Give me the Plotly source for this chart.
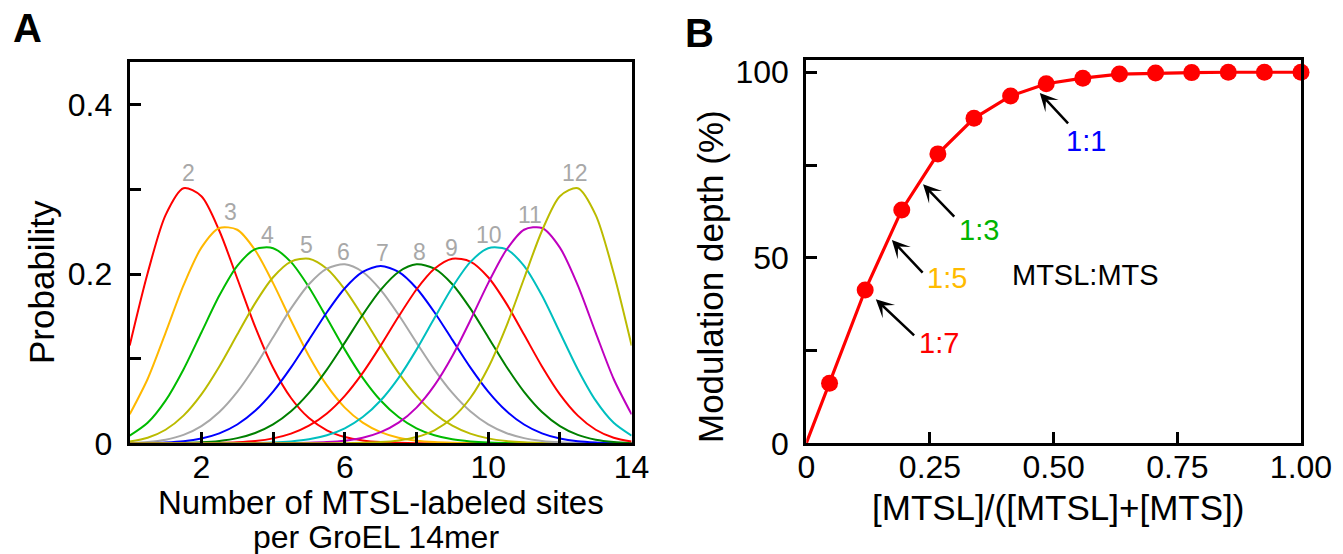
import plotly.graph_objects as go

W, H = 1343, 554
FONT = "Liberation Sans, Arial, Helvetica, sans-serif"

# ---- Panel A: probability of n labelled sites per 14mer ----
sites = [0, 0.5, 1, 1.5, 2, 2.5, 3, 3.5, 4, 4.5, 5, 5.5, 6, 6.5, 7,
         7.5, 8, 8.5, 9, 9.5, 10, 10.5, 11, 11.5, 12, 12.5, 13, 13.5, 14]
p2 = [0.1156, 0.2010, 0.2697, 0.3015, 0.2921, 0.2512, 0.1948, 0.1376, 0.0893, 0.0535, 0.0298, 0.0154, 0.0074, 0.0034, 0.0014,
      0.0006, 0.0002, 0.0001, 0, 0, 0, 0, 0, 0, 0, 0, 0, 0, 0]
p3 = [0.0342, 0.0760, 0.1305, 0.1866, 0.2313, 0.2545, 0.2524, 0.2281, 0.1893, 0.1451, 0.1032, 0.0684, 0.0422, 0.0244, 0.0132,
      0.0066, 0.0031, 0.0014, 0.0006, 0.0002, 0.0001, 0, 0, 0, 0, 0, 0, 0, 0]
p4 = [0.0090, 0.0242, 0.0504, 0.0873, 0.1310, 0.1746, 0.2097, 0.2294, 0.2306, 0.2141, 0.1845, 0.1480, 0.1107, 0.0774, 0.0506,
      0.0310, 0.0177, 0.0095, 0.0047, 0.0022, 0.0009, 0.0004, 0.0001, 0.0000, 0, 0, 0, 0, 0]
p5 = [0.0021, 0.0065, 0.0160, 0.0327, 0.0578, 0.0908, 0.1285, 0.1657, 0.1963, 0.2148, 0.2181, 0.2062, 0.1818, 0.1498, 0.1154,
      0.0832, 0.0561, 0.0353, 0.0208, 0.0114, 0.0058, 0.0027, 0.0012, 0.0005, 0.0002, 0.0001, 0, 0, 0]
p6 = [0.0004, 0.0015, 0.0042, 0.0099, 0.0203, 0.0370, 0.0608, 0.0911, 0.1254, 0.1594, 0.1880, 0.2065, 0.2115, 0.2025, 0.1813,
      0.1519, 0.1190, 0.0871, 0.0595, 0.0378, 0.0223, 0.0122, 0.0061, 0.0028, 0.0011, 0.0004, 0.0001, 0.0000, 0.0000]
p7 = [0.0001, 0.0003, 0.0009, 0.0023, 0.0056, 0.0117, 0.0222, 0.0384, 0.0611, 0.0897, 0.1222, 0.1549, 0.1833, 0.2026, 0.2095,
      0.2026, 0.1833, 0.1549, 0.1222, 0.0897, 0.0611, 0.0384, 0.0222, 0.0117, 0.0056, 0.0023, 0.0009, 0.0003, 0.0001]
p8 = [0.0000, 0.0000, 0.0001, 0.0004, 0.0011, 0.0028, 0.0061, 0.0122, 0.0223, 0.0378, 0.0595, 0.0871, 0.1190, 0.1519, 0.1813,
      0.2025, 0.2115, 0.2065, 0.1880, 0.1594, 0.1254, 0.0911, 0.0608, 0.0370, 0.0203, 0.0099, 0.0042, 0.0015, 0.0004]
p9 = [0, 0, 0, 0.0001, 0.0002, 0.0005, 0.0012, 0.0027, 0.0058, 0.0114, 0.0208, 0.0353, 0.0561, 0.0832, 0.1154,
      0.1498, 0.1818, 0.2062, 0.2181, 0.2148, 0.1963, 0.1657, 0.1285, 0.0908, 0.0578, 0.0327, 0.0160, 0.0065, 0.0021]
p10 = [0, 0, 0, 0, 0, 0.0000, 0.0001, 0.0004, 0.0009, 0.0022, 0.0047, 0.0095, 0.0177, 0.0310, 0.0506,
       0.0774, 0.1107, 0.1480, 0.1845, 0.2141, 0.2306, 0.2294, 0.2097, 0.1746, 0.1310, 0.0873, 0.0504, 0.0242, 0.0090]
p11 = [0, 0, 0, 0, 0, 0, 0, 0, 0.0001, 0.0002, 0.0006, 0.0014, 0.0031, 0.0066, 0.0132,
       0.0244, 0.0422, 0.0684, 0.1032, 0.1451, 0.1893, 0.2281, 0.2524, 0.2545, 0.2313, 0.1866, 0.1305, 0.0760, 0.0342]
p12 = [0, 0, 0, 0, 0, 0, 0, 0, 0, 0, 0, 0.0001, 0.0002, 0.0006, 0.0014,
       0.0034, 0.0074, 0.0154, 0.0298, 0.0535, 0.0893, 0.1376, 0.1948, 0.2512, 0.2921, 0.3015, 0.2697, 0.2010, 0.1156]

curve_labels = ["2", "3", "4", "5", "6", "7", "8", "9", "10", "11", "12"]
curve_colors = ["#ff0000", "#ffb800", "#00bb00", "#bbbb00", "#a8a8a8", "#0000ff",
                "#008000", "#ff0000", "#00bfbf", "#bf00bf", "#bbbb00"]
label_x = [1.63, 2.81, 3.84, 4.92, 5.95, 7.05, 8.07, 8.98, 10.03, 11.16, 12.41]
label_y = [0.320, 0.273, 0.246, 0.234, 0.226, 0.225, 0.226, 0.231, 0.246, 0.270, 0.320]

# ---- Panel B: modulation depth vs MTSL fraction ----
ratio = [0, 0.047, 0.119, 0.193, 0.266, 0.339, 0.413, 0.485, 0.559, 0.633, 0.706, 0.779, 0.853, 0.926, 1.0]
depth = [0, 16.2, 41.3, 62.9, 78.0, 87.6, 93.6, 96.9, 98.4, 99.5, 99.8, 99.9, 100, 100, 100]

mix_labels = ["1:1", "1:3", "1:5", "1:7"]
mix_colors = ["#0000ff", "#00b400", "#ffbb00", "#ff0000"]
arrow_tip = [(0.472, 94.4), (0.236, 69.8), (0.173, 54.8), (0.1405, 38.8)]
arrow_tail = [(0.532, 85.8), (0.302, 60.7), (0.238, 45.6), (0.221, 28.7)]
mix_text_pos = [(0.566, 81.4), (0.350, 57.6), (0.285, 44.5), (0.268, 27.0)]

fig = go.Figure()

curves = [p2, p3, p4, p5, p6, p7, p8, p9, p10, p11, p12]
for name, vals, col in zip(curve_labels, curves, curve_colors):
    fig.add_trace(go.Scatter(
        x=sites, y=vals, mode="lines", name=name,
        line=dict(color=col, width=2, shape="spline", smoothing=0.8),
        xaxis="x", yaxis="y", showlegend=False, hoverinfo="skip"))

fig.add_trace(go.Scatter(
    x=ratio, y=depth, mode="lines", line=dict(color="#ff0000", width=3.2),
    xaxis="x2", yaxis="y2", showlegend=False, hoverinfo="skip"))
fig.add_trace(go.Scatter(
    x=ratio[1:], y=depth[1:], mode="markers",
    marker=dict(color="#ff0000", size=17, line=dict(width=0)),
    xaxis="x2", yaxis="y2", showlegend=False, cliponaxis=False))


def px(x):
    return x / W


def py(y):
    return 1 - y / H


axis_common = dict(
    showline=True, linewidth=3, linecolor="black", mirror=True,
    ticks="inside", ticklen=11, tickwidth=3, tickcolor="black",
    showgrid=False, zeroline=False, automargin=False,
    tickfont=dict(family=FONT, size=32, color="black"),
)

fig.update_layout(
    width=W, height=H, autosize=False,
    margin=dict(l=0, r=0, t=0, b=0, pad=0),
    paper_bgcolor="white", plot_bgcolor="white",
    xaxis=dict(domain=[px(129.7), px(631.6)], range=[0, 14],
               tickvals=[2, 4, 6, 8, 10, 12, 14],
               ticktext=["2", "", "6", "", "10", "", "14"],
               ticklabelstandoff=-7, anchor="y", **axis_common),
    yaxis=dict(domain=[py(443.3), py(61.7)], range=[0, 0.451],
               tickvals=[0, 0.1, 0.2, 0.3, 0.4],
               ticktext=["0", "", "0.2", "", "0.4"],
               ticklabelstandoff=8, anchor="x", **axis_common),
    xaxis2=dict(domain=[px(806.3), px(1301)], range=[0, 1.0],
                tickvals=[0, 0.25, 0.5, 0.75, 1.0],
                ticktext=["0", "0.25", "0.50", "0.75", "1.00"],
                ticklabelstandoff=-7, anchor="y2", **axis_common),
    yaxis2=dict(domain=[py(443.3), py(60)], range=[0, 103.3],
                tickvals=[0, 25, 50, 75, 100],
                ticktext=["0", "", "50", "", "100"],
                ticklabelstandoff=8, anchor="x2", **axis_common),
)

ann = []


def text_at(text, x, y, size, color="black", angle=0, xref="paper", yref="paper"):
    return dict(text=text, x=x, y=y, xref=xref, yref=yref, showarrow=False,
                xanchor="center", yanchor="middle", textangle=angle,
                font=dict(family=FONT, size=size, color=color))


# panel letters
ann.append(text_at("<b>A</b>", px(27.5), py(28), 40))
ann.append(text_at("<b>B</b>", px(699), py(33), 40))

# axis titles
ann.append(text_at("Probability", px(41), py(282), 35, angle=-90))
ann.append(text_at("Number of MTSL-labeled sites", px(381), py(502.5), 33))
ann.append(text_at("per GroEL 14mer", px(376), py(537), 32))
ann.append(text_at("Modulation depth (%)", px(710), py(277), 35, angle=-90))
ann.append(text_at("[MTSL]/([MTSL]+[MTS])", px(1058), py(507), 35))

# curve labels above each peak
for name, lx, ly in zip(curve_labels, label_x, label_y):
    ann.append(text_at(name, lx, ly, 23, color="#a8a8a8", xref="x", yref="y"))

# ratio arrows and labels
for lab, col, tip, tail, tpos in zip(mix_labels, mix_colors, arrow_tip, arrow_tail, mix_text_pos):
    ann.append(dict(text="", x=tip[0], y=tip[1], ax=tail[0], ay=tail[1],
                    xref="x2", yref="y2", axref="x2", ayref="y2",
                    showarrow=True, arrowhead=3, arrowsize=1.2, arrowwidth=2.5,
                    arrowcolor="black"))
    ann.append(text_at(lab, tpos[0], tpos[1], 29, color=col, xref="x2", yref="y2"))

ann.append(text_at("MTSL:MTS", 0.564, 45.4, 29, xref="x2", yref="y2"))

fig.update_layout(annotations=ann)
fig.write_html("out.html")
